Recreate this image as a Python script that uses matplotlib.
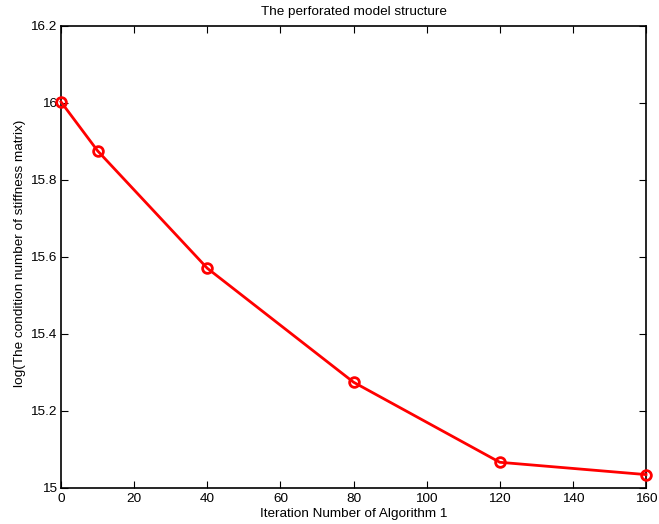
import matplotlib
matplotlib.use("Agg")
import matplotlib.pyplot as plt

iterations = [0, 10, 40, 80, 120, 160]
log_cond = [16.002, 15.875, 15.570, 15.274, 15.066, 15.034]
xticks = [0, 20, 40, 60, 80, 100, 120, 140, 160]
yticks = [15.0, 15.2, 15.4, 15.6, 15.8, 16.0, 16.2]
yticklabels = ["15", "15.2", "15.4", "15.6", "15.8", "16", "16.2"]

plt.rcParams['font.family'] = ['Liberation Sans', 'DejaVu Sans']
fig = plt.figure(figsize=(6.59, 5.24), dpi=100)
ax = fig.add_axes([0.0926, 0.0693, 0.8877, 0.8817])
ax.plot(iterations, log_cond, color='#ff0000', lw=2.0, marker='o', markersize=7,
        markerfacecolor='none', markeredgecolor='#ff0000', markeredgewidth=2.0, clip_on=False, zorder=3)
ax.set_xlim(0, 160)
ax.set_ylim(15, 16.2)
ax.set_xticks(xticks)
ax.set_xticklabels([str(t) for t in xticks])
ax.set_yticks(yticks)
ax.set_yticklabels(yticklabels)
ax.tick_params(direction='in', top=True, right=True, length=5, width=0.8, labelsize=9.7, pad=3)
ax.tick_params(axis='x', pad=4)
for s in ax.spines.values():
    s.set_linewidth(1.2)
ax.set_xlabel('Iteration Number of Algorithm 1', fontsize=9.7, labelpad=2)
ax.set_ylabel('log(The condition number of stiffness matrix)', fontsize=9.7)
ax.yaxis.set_label_coords(-0.06, 0.507)
ax.set_title('The perforated model structure', fontsize=9.7, pad=8)
fig.savefig('out.png', dpi=100)
